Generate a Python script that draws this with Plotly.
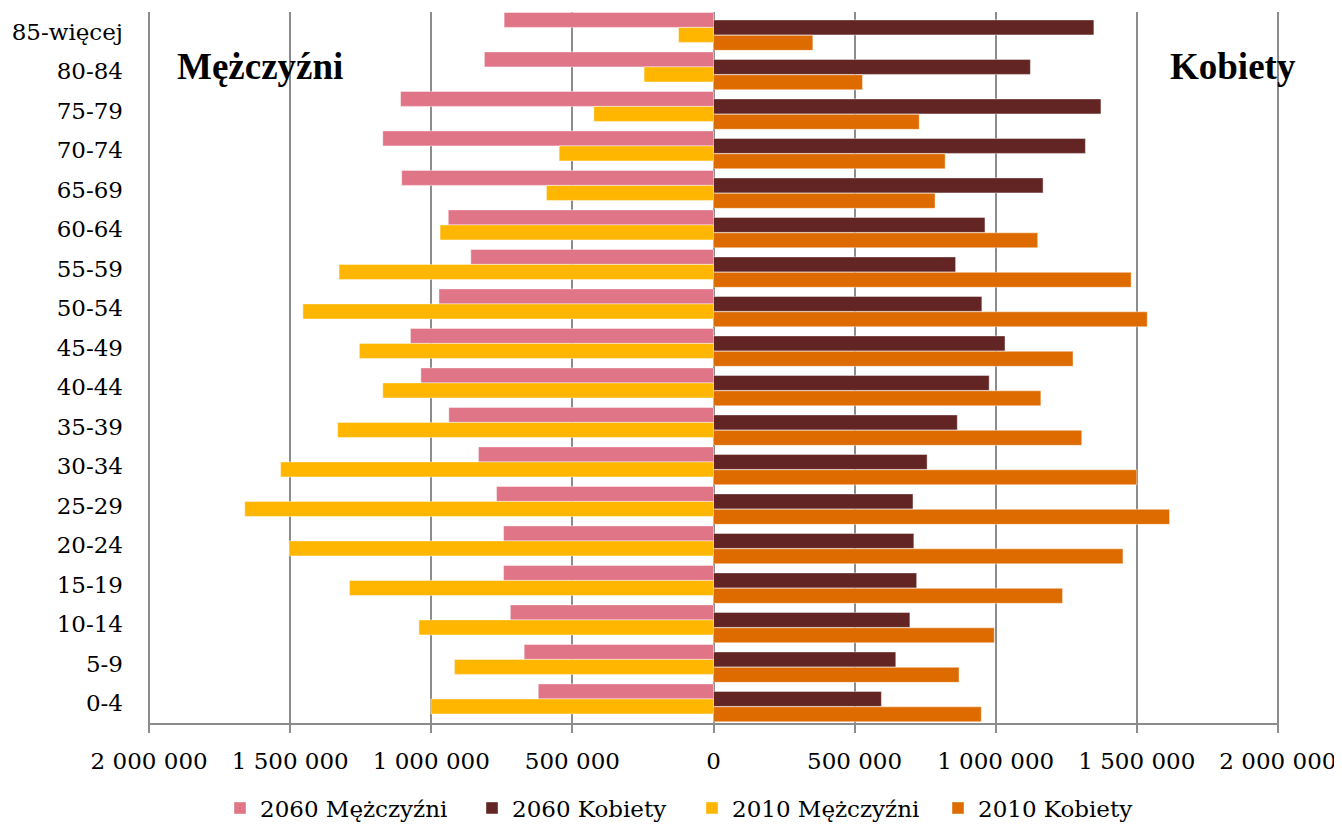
import plotly.graph_objects as go

categories = ["0-4", "5-9", "10-14", "15-19", "20-24", "25-29", "30-34", "35-39",
              "40-44", "45-49", "50-54", "55-59", "60-64", "65-69", "70-74",
              "75-79", "80-84", "85-więcej"]

m2060 = [621000, 671000, 720000, 744000, 744000, 769000, 833000, 938000, 1037000,
         1074000, 973000, 860000, 940000, 1105000, 1172000, 1109000, 812000, 742000]
k2060 = [595000, 646000, 696000, 720000, 710000, 707000, 757000, 864000, 977000,
         1033000, 951000, 858000, 962000, 1168000, 1318000, 1373000, 1123000, 1348000]
m2010 = [1002000, 918000, 1044000, 1290000, 1504000, 1661000, 1534000, 1332000, 1172000,
         1255000, 1455000, 1327000, 969000, 592000, 547000, 424000, 246000, 124000]
k2010 = [949000, 870000, 995000, 1237000, 1451000, 1616000, 1500000, 1305000, 1160000,
         1274000, 1537000, 1480000, 1149000, 785000, 821000, 729000, 528000, 352000]

tick_vals = [-2000000, -1500000, -1000000, -500000, 0, 500000, 1000000, 1500000, 2000000]
tick_text = ["2 000 000", "1 500 000", "1 000 000", "500 000", "0",
             "500 000", "1 000 000", "1 500 000", "2 000 000"]

series = [
    ("2060 Mężczyźni", m2060, -1, "#E07588", 0.11, 207),
    ("2060 Kobiety", k2060, 1, "#632523", -0.08, 175),
    ("2010 Mężczyźni", m2010, -1, "#FFB600", -0.27, 201),
    ("2010 Kobiety", k2010, 1, "#DD6B00", -0.47, 180),
]

W, H = 1334, 825
ML, MT = 140, 4
PW, PH = 1131, 711
MR = W - ML - PW
MB = H - MT - PH

font_main = "DejaVu Serif"
fig = go.Figure()
for name, vals, sign, color, off, lw in series:
    fig.add_trace(go.Bar(
        y=categories,
        x=[sign * v for v in vals],
        customdata=vals,
        orientation="h",
        name=name,
        offset=off,
        width=0.38,
        legendwidth=lw,
        marker=dict(color=color, line=dict(color="rgba(255,255,255,0.55)", width=0.8)),
        hovertemplate="%{y}: %{customdata:,}<extra>" + name + "</extra>",
    ))

fig.update_layout(
    width=W, height=H,
    barmode="overlay",
    paper_bgcolor="white", plot_bgcolor="white",
    margin=dict(l=ML, r=MR, t=MT, b=MB),
    font=dict(family=font_main, size=23, color="black"),
    showlegend=True,
    legend=dict(orientation="h", x=(212 - ML) / PW, xanchor="left",
                y=(MT + PH - 800) / PH, yanchor="middle",
                font=dict(family=font_main, size=23, color="black"),
                itemwidth=30, tracegroupgap=0),
    xaxis=dict(
        range=[-2004000, 2004000],
        tickvals=tick_vals, ticktext=tick_text,
        showgrid=True, gridcolor="#8C8C8C", gridwidth=1.5,
        zeroline=True, zerolinecolor="#8C8C8C", zerolinewidth=1.5,
        showline=True, linecolor="#8C8C8C", linewidth=2,
        ticks="outside", ticklen=8, tickcolor="#8C8C8C", tickwidth=1.5,
        ticklabelstandoff=8,
        tickfont=dict(family=font_main, size=23, color="black"),
        automargin=False,
        fixedrange=True,
    ),
    yaxis=dict(
        type="category",
        categoryorder="array", categoryarray=categories,
        range=[-0.5, 17.5],
        showgrid=False, zeroline=False, showline=False, ticks="",
        ticklabelstandoff=24,
        tickfont=dict(family=font_main, size=23, color="black"),
        automargin=False,
        fixedrange=True,
    ),
    annotations=[
        dict(text="<b>Mężczyźni</b>", xref="paper", yref="paper",
             x=(175 - 148) / PW, y=(723.3 - 67) / PH, xanchor="left", yanchor="middle",
             showarrow=False, font=dict(family="Liberation Serif", size=37, color="black")),
        dict(text="<b>Kobiety</b>", xref="paper", yref="paper",
             x=(1298 - 148) / PW, y=(723.3 - 67) / PH, xanchor="right", yanchor="middle",
             showarrow=False, font=dict(family="Liberation Serif", size=37, color="black")),
    ],
)

fig.write_html("out.html")
